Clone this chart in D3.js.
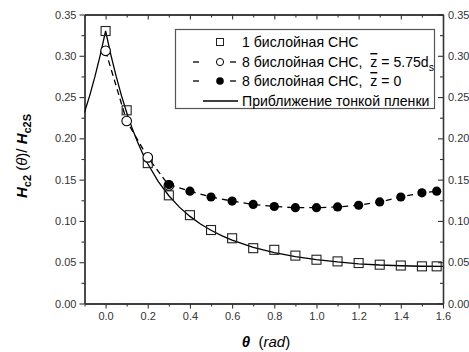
<!DOCTYPE html>
<html>
<head>
<meta charset="utf-8">
<script src="https://cdn.jsdelivr.net/npm/d3@7"></script>
<style>
  body { margin: 0; background: #fff; }
  svg { font-family: "Liberation Sans", Arial, sans-serif; }
  text { white-space: pre; }
</style>
</head>
<body>
<div id="chart"></div>
<script>
// 1 bilayer (squares)
let sqTheta = [0.0, 0.1, 0.2, 0.3, 0.4, 0.5, 0.6, 0.7, 0.8, 0.9, 1.0, 1.1, 1.2, 1.3, 1.4, 1.5, 1.57];
let sqVal = [0.330, 0.234, 0.170, 0.131, 0.107, 0.089, 0.079, 0.067, 0.065, 0.058, 0.053, 0.051, 0.049, 0.047, 0.046, 0.045, 0.045];

// 8 bilayers, z = 5.75ds (open circles)
let openTheta = [0.0, 0.1, 0.2, 0.3];
let openVal = [0.306, 0.221, 0.177, 0.143];

// 8 bilayers, z = 0 (filled circles)
let fillTheta = [0.3, 0.4, 0.5, 0.6, 0.7, 0.8, 0.9, 1.0, 1.1, 1.2, 1.3, 1.4, 1.5, 1.57];
let fillVal = [0.144, 0.136, 0.129, 0.124, 0.120, 0.1175, 0.116, 0.116, 0.117, 0.119, 0.123, 0.129, 0.134, 0.136];

// thin film approximation (solid line)
let filmTheta = [-0.1, -0.075, -0.05, -0.025, 0.0, 0.025, 0.05, 0.075, 0.1, 0.125, 0.15, 0.175, 0.2, 0.25, 0.3, 0.35, 0.4, 0.45, 0.5, 0.55, 0.6, 0.7, 0.8, 0.9, 1.0, 1.1, 1.2, 1.3, 1.4, 1.5, 1.6];
let filmVal = [0.2314, 0.2521, 0.2753, 0.3012, 0.330, 0.3012, 0.2753, 0.2521, 0.2314, 0.2130, 0.1966, 0.1821, 0.1693, 0.1477, 0.1305, 0.1167, 0.1055, 0.0963, 0.0887, 0.0822, 0.0768, 0.0681, 0.0617, 0.0568, 0.0531, 0.0503, 0.0481, 0.0466, 0.0457, 0.0451, 0.0450];

let xTicks = [0.0, 0.2, 0.4, 0.6, 0.8, 1.0, 1.2, 1.4, 1.6];
let xMinor = [-0.1, 0.1, 0.3, 0.5, 0.7, 0.9, 1.1, 1.3, 1.5];
let yTicks = [0.00, 0.05, 0.10, 0.15, 0.20, 0.25, 0.30, 0.35];
let yMinor = [0.025, 0.075, 0.125, 0.175, 0.225, 0.275, 0.325];

let width = 469, height = 352;
let plot = { left: 84.5, right: 443, top: 14.5, bottom: 303.5 };

let svg = d3.select("#chart").append("svg")
    .attr("width", width)
    .attr("height", height);

let xScale = d3.scaleLinear().domain([-0.1, 1.6]).range([plot.left, plot.right]);
let yScale = d3.scaleLinear().domain([0, 0.35]).range([plot.bottom, plot.top]);

svg.append("defs").append("clipPath").attr("id", "clip")
    .append("rect")
    .attr("x", plot.left).attr("y", plot.top)
    .attr("width", plot.right - plot.left).attr("height", plot.bottom - plot.top);

// axes
function styleAxis(g) {
    g.select(".domain").attr("stroke", "#333").attr("stroke-width", 1.3);
    g.selectAll(".tick line").attr("stroke", "#333").attr("stroke-width", 1.1);
    g.selectAll(".tick text").attr("fill", "#333").attr("font-size", "11px")
        .attr("font-family", "'Liberation Sans', Arial, sans-serif");
}
let fmt = d3.format(".1f"), fmtY = d3.format(".2f");

svg.append("g").attr("transform", `translate(0,${plot.bottom})`)
    .call(d3.axisBottom(xScale).tickValues(xTicks).tickFormat(fmt).tickSize(5).tickSizeOuter(0).tickPadding(4))
    .call(styleAxis);
svg.append("g").attr("transform", `translate(0,${plot.bottom})`)
    .call(d3.axisBottom(xScale).tickValues(xMinor).tickFormat("").tickSize(3).tickSizeOuter(0))
    .call(styleAxis);
svg.append("g").attr("transform", `translate(0,${plot.top})`)
    .call(d3.axisTop(xScale).tickValues(xTicks).tickFormat("").tickSize(-5).tickSizeOuter(0))
    .call(styleAxis);
svg.append("g").attr("transform", `translate(0,${plot.top})`)
    .call(d3.axisTop(xScale).tickValues(xMinor).tickFormat("").tickSize(-3).tickSizeOuter(0))
    .call(styleAxis);

svg.append("g").attr("transform", `translate(${plot.left},0)`)
    .call(d3.axisLeft(yScale).tickValues(yTicks).tickFormat(fmtY).tickSize(5).tickSizeOuter(0).tickPadding(3))
    .call(styleAxis);
svg.append("g").attr("transform", `translate(${plot.left},0)`)
    .call(d3.axisLeft(yScale).tickValues(yMinor).tickFormat("").tickSize(3).tickSizeOuter(0))
    .call(styleAxis);
svg.append("g").attr("transform", `translate(${plot.right},0)`)
    .call(d3.axisRight(yScale).tickValues(yTicks).tickFormat(fmtY).tickSize(-5).tickSizeOuter(0).tickPadding(5))
    .call(styleAxis);
svg.append("g").attr("transform", `translate(${plot.right},0)`)
    .call(d3.axisRight(yScale).tickValues(yMinor).tickFormat("").tickSize(-3).tickSizeOuter(0))
    .call(styleAxis);

let chartGroup = svg.append("g").attr("clip-path", "url(#clip)");

let line = d3.line()
    .x(d => xScale(d[0]))
    .y(d => yScale(d[1]));

// thin film curve
chartGroup.append("path")
    .datum(filmTheta.map((t, i) => [t, filmVal[i]]))
    .attr("d", line)
    .attr("fill", "none")
    .attr("stroke", "#000")
    .attr("stroke-width", 1.3);

// dashed connecting lines
chartGroup.append("path")
    .datum(openTheta.map((t, i) => [t, openVal[i]]))
    .attr("d", line)
    .attr("fill", "none").attr("stroke", "#000").attr("stroke-width", 1.3)
    .attr("stroke-dasharray", "6,4");
chartGroup.append("path")
    .datum(fillTheta.map((t, i) => [t, fillVal[i]]))
    .attr("d", line)
    .attr("fill", "none").attr("stroke", "#000").attr("stroke-width", 1.3)
    .attr("stroke-dasharray", "6,5");

// squares
chartGroup.append("g").selectAll("rect")
    .data(sqTheta.map((t, i) => [t, sqVal[i]]))
    .enter().append("rect")
    .attr("x", d => xScale(d[0]) - 4.5)
    .attr("y", d => yScale(d[1]) - 4.5)
    .attr("width", 9).attr("height", 9)
    .attr("fill", "none").attr("stroke", "#222").attr("stroke-width", 1.1);

// open circles
chartGroup.append("g").selectAll("circle")
    .data(openTheta.map((t, i) => [t, openVal[i]]))
    .enter().append("circle")
    .attr("cx", d => xScale(d[0])).attr("cy", d => yScale(d[1]))
    .attr("r", 4.8)
    .attr("fill", "#fff").attr("stroke", "#000").attr("stroke-width", 1.1);

// filled circles
chartGroup.append("g").selectAll("circle")
    .data(fillTheta.map((t, i) => [t, fillVal[i]]))
    .enter().append("circle")
    .attr("cx", d => xScale(d[0])).attr("cy", d => yScale(d[1]))
    .attr("r", 4.6)
    .attr("fill", "#000");

// legend
let legend = svg.append("g");
legend.append("rect")
    .attr("x", 175.5).attr("y", 29.5).attr("width", 259).attr("height", 79)
    .attr("fill", "#fff").attr("stroke", "#555").attr("stroke-width", 1.2);

let symX = 220, textX = 242;
let rows = [42, 62, 81, 101];
legend.append("rect").attr("x", symX - 3.5).attr("y", rows[0] - 3.5).attr("width", 7).attr("height", 7)
    .attr("fill", "none").attr("stroke", "#222").attr("stroke-width", 1);
[1, 2].forEach(function(k) {
    legend.append("line").attr("x1", 193).attr("x2", 199).attr("y1", rows[k]).attr("y2", rows[k])
        .attr("stroke", "#000").attr("stroke-width", 1.3);
    legend.append("line").attr("x1", 230).attr("x2", 236).attr("y1", rows[k]).attr("y2", rows[k])
        .attr("stroke", "#000").attr("stroke-width", 1.3);
});
legend.append("circle").attr("cx", symX).attr("cy", rows[1]).attr("r", 3.6)
    .attr("fill", "#fff").attr("stroke", "#000").attr("stroke-width", 1);
legend.append("circle").attr("cx", symX).attr("cy", rows[2]).attr("r", 3.8).attr("fill", "#000");
legend.append("line").attr("x1", 203).attr("x2", 238).attr("y1", rows[3]).attr("y2", rows[3])
    .attr("stroke", "#000").attr("stroke-width", 1.3);

let fs = "14.1px";
legend.append("text").attr("x", textX).attr("y", rows[0] + 5).attr("font-size", fs)
    .text("1 бислойная СНС");
let t2 = legend.append("text").attr("x", textX).attr("y", rows[1] + 5).attr("font-size", fs);
t2.append("tspan").text("8 бислойная СНС,  ");
t2.append("tspan").attr("text-decoration", "overline").text("z");
t2.append("tspan").text(" = 5.75d");
t2.append("tspan").attr("font-size", "10.5px").attr("dy", 4).text("s");
let t3 = legend.append("text").attr("x", textX).attr("y", rows[2] + 5).attr("font-size", fs);
t3.append("tspan").text("8 бислойная СНС,  ");
t3.append("tspan").attr("text-decoration", "overline").text("z");
t3.append("tspan").text(" = 0");
legend.append("text").attr("x", textX).attr("y", rows[3] + 5).attr("font-size", fs)
    .text("Приближение тонкой пленки");

// x axis title
let xt = svg.append("text")
    .attr("x", 266).attr("y", 347)
    .attr("text-anchor", "middle")
    .attr("font-size", "15px");
xt.append("tspan").attr("font-weight", "bold").attr("font-style", "italic").text("θ");
xt.append("tspan").text("  (");
xt.append("tspan").attr("font-style", "italic").text("rad");
xt.append("tspan").text(")");

// y axis title
let yt = svg.append("text")
    .attr("transform", "translate(27, 156) rotate(-90)")
    .attr("text-anchor", "middle")
    .attr("font-size", "15px");
yt.append("tspan").attr("font-weight", "bold").attr("font-style", "italic").text("H");
yt.append("tspan").attr("font-weight", "bold").attr("font-size", "11px").attr("dy", 4).text("c2");
yt.append("tspan").attr("dy", -4).text(" (");
yt.append("tspan").attr("font-style", "italic").text("θ");
yt.append("tspan").text(")/ ");
yt.append("tspan").attr("font-weight", "bold").attr("font-style", "italic").text("H");
yt.append("tspan").attr("font-weight", "bold").attr("font-size", "11px").attr("dy", 4).text("c2S");
</script>
</body>
</html>
